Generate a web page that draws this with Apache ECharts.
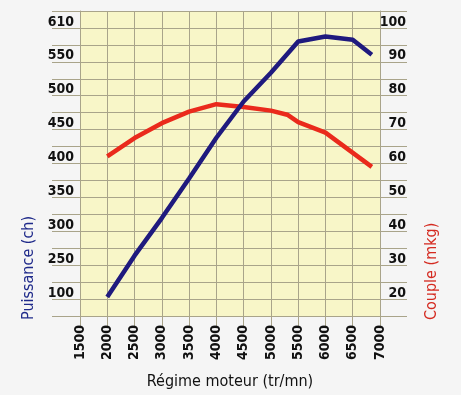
<!DOCTYPE html>
<html>
<head>
<meta charset="utf-8">
<script src="https://cdn.jsdelivr.net/npm/echarts@6/dist/echarts.min.js"></script>
<style>
html,body{margin:0;padding:0;background:#f5f5f5;}
#c{width:461px;height:395px;}
</style>
</head>
<body>
<div id="c"></div>
<script>
// X axis (rpm)
const xTicks = [1500,2000,2500,3000,3500,4000,4500,5000,5500,6000,6500,7000];
// Puissance curve (plotted in the shared grid scale)
const puissanceRpm = [2000,2500,3000,3500,4000,4500,5000,5500,6000,6500,6850];
const puissanceVal = [20.6,32.8,43.9,55.6,67.6,78.3,86.8,96.0,97.5,96.5,92.1];
// Couple curve (mkg)
const coupleRpm = [2000,2500,3000,3500,4000,4500,5000,5300,5500,6000,6850];
const coupleVal = [62.1,67.5,71.9,75.3,77.5,76.7,75.6,74.4,72.2,69.1,59.0];
// Tick labels
const rightTicks = [20,30,40,50,60,70,80,90,100];
const leftTickLabels = ['100','250','300','350','400','450','500','550','610'];

const leftMap = {};
rightTicks.forEach((v,i)=>{ leftMap[v] = leftTickLabels[i]; });

const FONT = '"Liberation Sans Narrow","DejaVu Sans Condensed","Liberation Sans",sans-serif';
const gridCol = '#a9a48a';

const chart = echarts.init(document.getElementById('c'), null, {renderer:'canvas'});
chart.setOption({
  backgroundColor:'#f5f5f5',
  animation:false,
  grid:{left:80,right:81,top:11,bottom:76,show:true,backgroundColor:'#f8f6c8',borderWidth:0},
  xAxis:{
    type:'value',min:1500,max:7000,interval:500,
    axisLine:{show:true,lineStyle:{color:gridCol,width:1}},
    axisTick:{show:true,length:10,lineStyle:{color:gridCol}},
    splitLine:{show:true,lineStyle:{color:gridCol,width:1}},
    axisLabel:{rotate:90,margin:9,color:'#111',fontFamily:FONT,fontSize:14,fontWeight:'bold',
      formatter:v=> xTicks.indexOf(v)>=0 ? String(v) : ''},
    name:'Régime moteur (tr/mn)',nameLocation:'middle',nameGap:58,
    nameTextStyle:{color:'#111',fontFamily:FONT,fontSize:16}
  },
  yAxis:[
    {type:'value',min:15,max:105,interval:5,position:'left',
      axisLine:{show:true,lineStyle:{color:gridCol}},
      axisTick:{show:true,length:28,lineStyle:{color:gridCol}},
      splitLine:{show:true,lineStyle:{color:gridCol,width:1}},
      axisLabel:{margin:6,color:'#111',fontFamily:FONT,fontSize:14,fontWeight:'bold',
        verticalAlign:'bottom',lineHeight:12,
        formatter:v=> leftMap[v] !== undefined ? leftMap[v] : ''}
    },
    {type:'value',min:15,max:105,interval:5,position:'right',
      axisLine:{show:true,lineStyle:{color:gridCol}},
      axisTick:{show:true,length:27,lineStyle:{color:gridCol}},
      splitLine:{show:false},
      axisLabel:{margin:26,align:'right',color:'#111',fontFamily:FONT,fontSize:14,fontWeight:'bold',
        verticalAlign:'bottom',lineHeight:12,
        formatter:v=> rightTicks.indexOf(v)>=0 ? String(v) : ''}
    }
  ],
  series:[
    {type:'line',name:'Couple',yAxisIndex:1,symbol:'none',
      data:coupleRpm.map((r,i)=>[r,coupleVal[i]]),
      lineStyle:{color:'#ea2a1c',width:4.5}},
    {type:'line',name:'Puissance',yAxisIndex:0,symbol:'none',
      data:puissanceRpm.map((r,i)=>[r,puissanceVal[i]]),
      lineStyle:{color:'#1f1a7e',width:4.5}}
  ],
  graphic:[
    {type:'text',x:29,y:320,rotation:Math.PI/2,
      style:{text:'Puissance (ch)',fill:'#1f2a8a',font:'16px '+FONT,textAlign:'left',textVerticalAlign:'middle'}},
    {type:'text',x:432,y:320,rotation:Math.PI/2,
      style:{text:'Couple (mkg)',fill:'#d42a20',font:'16px '+FONT,textAlign:'left',textVerticalAlign:'middle'}}
  ]
});
</script>
</body>
</html>
